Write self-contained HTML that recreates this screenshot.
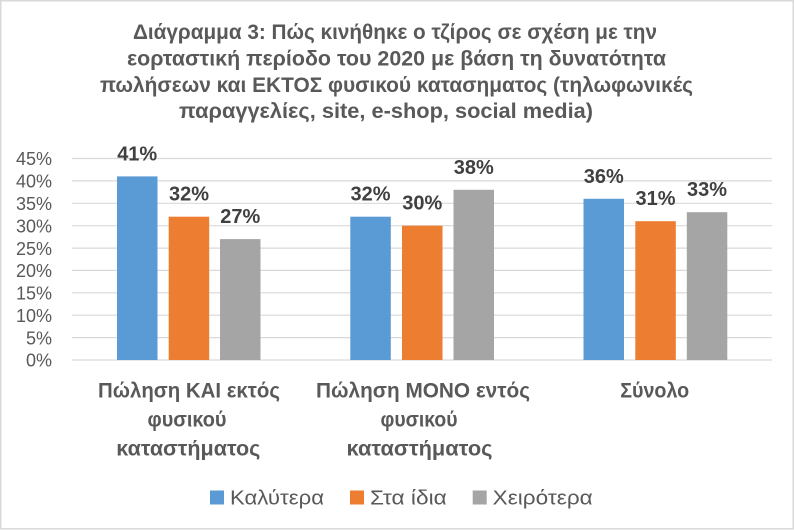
<!DOCTYPE html>
<html>
<head>
<meta charset="utf-8">
<style>
html,body{margin:0;padding:0;background:#fff;}
svg{display:block;}
</style>
</head>
<body>
<svg width="794" height="530" viewBox="0 0 794 530" xmlns="http://www.w3.org/2000/svg">
<rect x="0" y="0" width="794" height="530" fill="#ffffff"/>
<rect x="0.75" y="0.75" width="792.5" height="528" fill="none" stroke="#d9d9d9" stroke-width="1.5"/>

<!-- Title -->
<g font-family="'Liberation Sans','Noto Sans CJK SC',sans-serif" font-weight="bold" font-size="21" fill="#595959">
<text x="133" y="39" textLength="524" lengthAdjust="spacingAndGlyphs">Διάγραμμα 3: Πώς κινήθηκε ο τζίρος σε σχέση με την</text>
<text x="127" y="65.5" textLength="539" lengthAdjust="spacingAndGlyphs">εορταστική περίοδο του 2020 με βάση τη δυνατότητα</text>
<text x="100" y="92" textLength="593" lengthAdjust="spacingAndGlyphs">πωλήσεων και ΕΚΤΟΣ φυσικού κατασηματος (τηλωφωνικές</text>
<text x="179" y="118" textLength="414" lengthAdjust="spacingAndGlyphs">παραγγελίες, site, e-shop, social media)</text>
</g>

<!-- Gridlines -->
<g stroke="#d9d9d9" stroke-width="1.2">
<line x1="72" x2="772" y1="360" y2="360"/>
<line x1="72" x2="772" y1="337.6" y2="337.6"/>
<line x1="72" x2="772" y1="315.2" y2="315.2"/>
<line x1="72" x2="772" y1="292.8" y2="292.8"/>
<line x1="72" x2="772" y1="270.4" y2="270.4"/>
<line x1="72" x2="772" y1="248.1" y2="248.1"/>
<line x1="72" x2="772" y1="225.7" y2="225.7"/>
<line x1="72" x2="772" y1="203.3" y2="203.3"/>
<line x1="72" x2="772" y1="180.9" y2="180.9"/>
<line x1="72" x2="772" y1="158.5" y2="158.5"/>
</g>

<!-- Y tick labels -->
<g font-family="'Liberation Sans',sans-serif" font-size="18" fill="#595959" text-anchor="end">
<text x="52" y="366.7">0%</text>
<text x="52" y="344.3">5%</text>
<text x="52" y="321.9">10%</text>
<text x="52" y="299.5">15%</text>
<text x="52" y="277.1">20%</text>
<text x="52" y="254.8">25%</text>
<text x="52" y="232.4">30%</text>
<text x="52" y="210">35%</text>
<text x="52" y="187.6">40%</text>
<text x="52" y="165.2">45%</text>
</g>

<!-- Bars -->
<g>
<rect x="117" y="176.4" width="40.5" height="183.6" fill="#5b9bd5"/>
<rect x="168.7" y="216.7" width="40.5" height="143.3" fill="#ed7d31"/>
<rect x="220" y="239.1" width="40.5" height="120.9" fill="#a5a5a5"/>

<rect x="350.3" y="216.7" width="40.5" height="143.3" fill="#5b9bd5"/>
<rect x="402" y="225.7" width="40.5" height="134.3" fill="#ed7d31"/>
<rect x="453.5" y="189.8" width="40.5" height="170.2" fill="#a5a5a5"/>

<rect x="583.5" y="198.8" width="40.5" height="161.2" fill="#5b9bd5"/>
<rect x="635.3" y="221.2" width="40.5" height="138.8" fill="#ed7d31"/>
<rect x="686.8" y="212.2" width="40.5" height="147.8" fill="#a5a5a5"/>
</g>

<!-- Data labels -->
<g font-family="'Liberation Sans',sans-serif" font-weight="bold" font-size="20" fill="#404040" text-anchor="middle">
<text x="137.2" y="160.5" textLength="40" lengthAdjust="spacingAndGlyphs">41%</text>
<text x="189" y="200.7" textLength="40" lengthAdjust="spacingAndGlyphs">32%</text>
<text x="240.3" y="223.1" textLength="40" lengthAdjust="spacingAndGlyphs">27%</text>

<text x="370.5" y="200.7" textLength="40" lengthAdjust="spacingAndGlyphs">32%</text>
<text x="422.3" y="209.7" textLength="40" lengthAdjust="spacingAndGlyphs">30%</text>
<text x="473.8" y="173.8" textLength="40" lengthAdjust="spacingAndGlyphs">38%</text>

<text x="603.8" y="182.8" textLength="40" lengthAdjust="spacingAndGlyphs">36%</text>
<text x="655.5" y="205.2" textLength="40" lengthAdjust="spacingAndGlyphs">31%</text>
<text x="707" y="196.2" textLength="40" lengthAdjust="spacingAndGlyphs">33%</text>
</g>

<!-- Category labels -->
<g font-family="'Liberation Sans','Noto Sans CJK SC',sans-serif" font-weight="bold" font-size="21" fill="#595959" text-anchor="middle">
<text x="189" y="397.3" textLength="182" lengthAdjust="spacingAndGlyphs">Πώληση ΚΑΙ εκτός</text>
<text x="187" y="426.5" textLength="79" lengthAdjust="spacingAndGlyphs">φυσικού</text>
<text x="188.3" y="455.5" textLength="144" lengthAdjust="spacingAndGlyphs">καταστήματος</text>

<text x="423" y="397.3" textLength="214" lengthAdjust="spacingAndGlyphs">Πώληση ΜΟΝΟ εντός</text>
<text x="419" y="426.5" textLength="77" lengthAdjust="spacingAndGlyphs">φυσικού</text>
<text x="419.5" y="455.5" textLength="146" lengthAdjust="spacingAndGlyphs">καταστήματος</text>

<text x="654.7" y="397.3" textLength="69" lengthAdjust="spacingAndGlyphs">Σύνολο</text>
</g>

<!-- Legend -->
<rect x="210" y="490.5" width="14" height="14" fill="#5b9bd5"/>
<rect x="350" y="490.5" width="14" height="14" fill="#ed7d31"/>
<rect x="472.7" y="490.5" width="14" height="14" fill="#a5a5a5"/>
<g font-family="'Liberation Sans','Noto Sans CJK SC',sans-serif" font-size="20" fill="#595959">
<text x="230" y="504.3" textLength="94" lengthAdjust="spacingAndGlyphs">Καλύτερα</text>
<text x="370" y="504.3" textLength="76.7" lengthAdjust="spacingAndGlyphs">Στα ίδια</text>
<text x="492.7" y="504.3" textLength="100" lengthAdjust="spacingAndGlyphs">Χειρότερα</text>
</g>
</svg>
</body>
</html>
